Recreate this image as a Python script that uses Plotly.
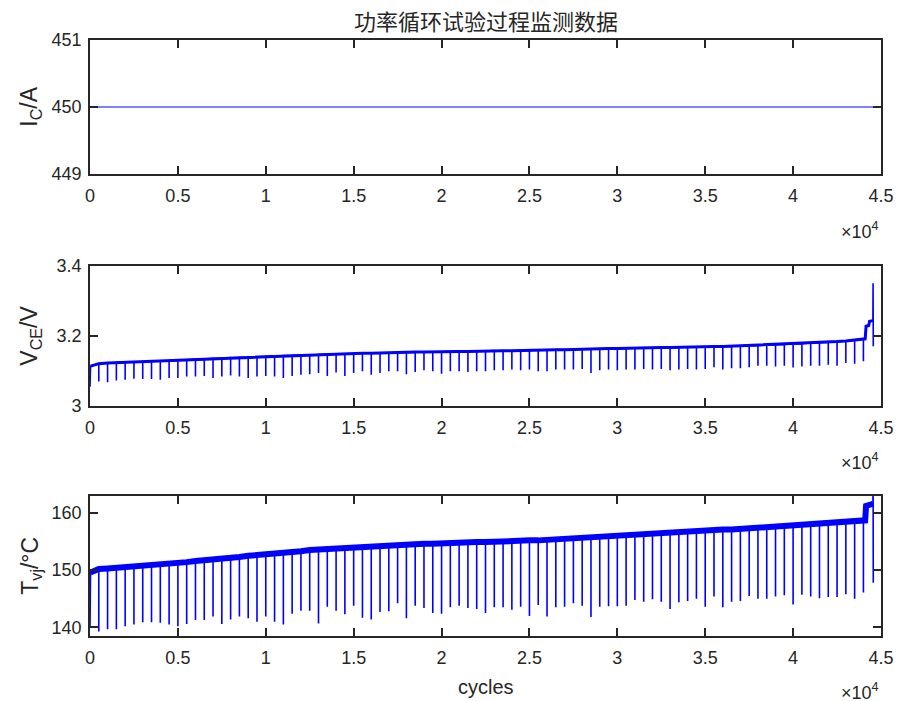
import plotly.graph_objects as go

# ---------------- data ----------------
x_tick_vals = [0, 5000, 10000, 15000, 20000, 25000, 30000, 35000, 40000, 45000]
x_tick_text = ["0", "0.5", "1", "1.5", "2", "2.5", "3", "3.5", "4", "4.5"]

ic_cycles = [0, 45000]
ic_values = [450, 450]

# cycles at which the periodic dips occur (every 500 cycles)
dip_cycles = list(range(500, 44001, 500))

# start of the record
start_cycles = [0, 30]
vce_start = [3.055, 3.114]
tvj_start = [140.0, 149.6]

# baseline level at each dip
vce_base = [3.121, 3.123, 3.124, 3.125, 3.126, 3.127, 3.128, 3.129, 3.130, 3.131,
            3.132, 3.133, 3.134, 3.136, 3.137, 3.138, 3.139, 3.140, 3.141, 3.142, 3.143, 3.144,
            3.145, 3.146, 3.146, 3.147, 3.148, 3.149, 3.149, 3.150, 3.151, 3.151, 3.152, 3.152,
            3.153, 3.153, 3.154, 3.154, 3.155, 3.155, 3.156, 3.156, 3.156, 3.157, 3.157,
            3.158, 3.158, 3.158, 3.159, 3.159, 3.160, 3.160, 3.161, 3.161, 3.162, 3.162,
            3.163, 3.163, 3.164, 3.164, 3.165, 3.165, 3.166, 3.166, 3.167, 3.167, 3.168, 3.168,
            3.169, 3.169, 3.170, 3.170, 3.171, 3.172, 3.172, 3.173, 3.174, 3.175,
            3.176, 3.177, 3.178, 3.180, 3.181, 3.182, 3.184, 3.186, 3.189, 3.192]

vce_dip = [3.070, 3.068, 3.073, 3.075, 3.078, 3.077, 3.077, 3.075, 3.080, 3.080,
           3.084, 3.084, 3.086, 3.080, 3.084, 3.087, 3.084, 3.080, 3.084, 3.086,
           3.084, 3.080, 3.086, 3.089, 3.091, 3.094, 3.086, 3.096, 3.086, 3.094,
           3.099, 3.089, 3.094,
           3.099, 3.099, 3.091, 3.097, 3.102, 3.099, 3.092, 3.099, 3.099, 3.097,
           3.099, 3.099, 3.102, 3.102, 3.104, 3.102, 3.104, 3.099, 3.099, 3.104,
           3.104, 3.104, 3.106, 3.094, 3.102, 3.104, 3.102, 3.104, 3.104, 3.106,
           3.104, 3.106, 3.102, 3.104,
           3.106, 3.104,
           3.106, 3.111, 3.104, 3.108, 3.108, 3.111, 3.115, 3.115, 3.113, 3.115,
           3.110, 3.113, 3.115, 3.115, 3.118, 3.115, 3.123, 3.121, 3.128]

tvj_base = [150.2, 150.3, 150.4, 150.5, 150.6, 150.7, 150.8, 150.9, 151.1, 151.3,
            151.4, 151.6, 151.7, 151.9, 152.0, 152.2, 152.3, 152.5, 152.6, 152.8, 152.9, 153.1,
            153.2, 153.3, 153.5, 153.6, 153.7, 153.8, 153.9, 154.0, 154.1, 154.2, 154.3, 154.4,
            154.4, 154.5, 154.5, 154.6, 154.6, 154.7, 154.7, 154.8, 154.8, 154.9, 154.9,
            155.0, 155.0, 155.1, 155.1, 155.2, 155.2, 155.3, 155.4, 155.4, 155.5, 155.6,
            155.7, 155.8, 155.9, 156.0, 156.1, 156.2, 156.3, 156.4, 156.5, 156.6, 156.7, 156.8,
            156.9, 156.9, 157.0, 157.1, 157.1, 157.2, 157.3, 157.4, 157.5, 157.6,
            157.7, 157.8, 157.9, 158.0, 158.1, 158.2, 158.3, 158.4, 158.5, 158.6]

tvj_dip = [139.3, 139.7, 139.7, 140.2, 140.5, 140.9, 140.9, 140.8, 140.5, 140.2, 140.6,
           141.3, 141.3, 141.9, 140.6, 141.4, 141.9, 141.6, 141.0, 141.9, 141.0, 140.5,
           142.4, 142.9, 142.9, 140.7, 143.6, 142.9, 142.3, 143.8, 141.7, 141.4, 142.7,
           142.8, 144.2, 141.6, 143.8, 143.4, 142.5, 142.4, 143.5, 143.8, 143.4, 143.2, 142.5,
           143.5, 143.5, 143.1, 143.6, 142.0, 143.9, 141.9, 143.5, 143.6, 144.2, 143.8,
           141.8, 143.6, 143.7, 143.7, 143.8, 144.8, 144.5, 144.9, 144.5, 143.2, 144.4, 144.6,
           145.0, 143.6, 145.4, 143.5, 144.5, 144.6, 145.5, 145.0, 145.0, 145.4,
           145.6, 144.0, 145.7, 145.4, 145.1, 145.3, 145.3, 145.8, 145.0, 146.1]

# end of the record (step up, final spike)
tail_cycles = [44100, 44150, 44300, 44350, 44540, 44550, 44560]
vce_tail = [3.192, 3.228, 3.230, 3.242, 3.244, 3.351, 3.171]
tvj_tail = [158.7, 161.2, 161.3, 161.5, 161.6, 166.0, 147.8]

BLUE = "rgb(0,0,255)"
AX = "#262626"
FONT = "Liberation Sans, Arial, sans-serif"


def trace_xy(base, dip, start, tail):
    xs = list(start_cycles)
    ys = list(start)
    for c, b, d in zip(dip_cycles, base, dip):
        xs += [c, c, c]
        ys += [b, d, b]
    xs += tail_cycles
    ys += tail
    return xs, ys


def band_xy(base, start, tail):
    xs = start_cycles[-1:] + dip_cycles + tail_cycles[:-2]
    ys = list(start[-1:]) + list(base) + list(tail[:-2])
    return xs, ys


fig = go.Figure()

fig.add_trace(go.Scatter(x=ic_cycles, y=ic_values, mode="lines",
                         line=dict(color=BLUE, width=1), xaxis="x", yaxis="y",
                         showlegend=False))

bx, by = band_xy(vce_base, vce_start, vce_tail)
fig.add_trace(go.Scatter(x=bx, y=by, mode="lines", line=dict(color=BLUE, width=3),
                         xaxis="x2", yaxis="y2", showlegend=False))
vx, vy = trace_xy(vce_base, vce_dip, vce_start, vce_tail)
fig.add_trace(go.Scatter(x=vx, y=vy, mode="lines", line=dict(color=BLUE, width=1.6),
                         xaxis="x2", yaxis="y2", showlegend=False))

bx, by = band_xy(tvj_base, tvj_start, tvj_tail)
fig.add_trace(go.Scatter(x=bx, y=by, mode="lines", line=dict(color=BLUE, width=6),
                         xaxis="x3", yaxis="y3", showlegend=False))
tx, ty = trace_xy(tvj_base, tvj_dip, tvj_start, tvj_tail)
fig.add_trace(go.Scatter(x=tx, y=ty, mode="lines", line=dict(color=BLUE, width=1.6),
                         xaxis="x3", yaxis="y3", showlegend=False))

axis_common = dict(showline=True, linecolor=AX, linewidth=1.6, mirror="ticks",
                   ticks="inside", ticklen=8, tickwidth=1.6, tickcolor=AX,
                   showgrid=False, zeroline=False,
                   tickfont=dict(family=FONT, size=18, color=AX))

xcommon = dict(axis_common, range=[0, 45000], tickvals=x_tick_vals, ticktext=x_tick_text,
               ticklabelstandoff=5, automargin=False)
ycommon = dict(axis_common, ticklabelstandoff=3, automargin=False)

fig.update_layout(
    width=900, height=701,
    margin=dict(l=90, r=19, t=40, b=65),
    paper_bgcolor="white", plot_bgcolor="white",
    xaxis=dict(xcommon, anchor="y", domain=[0, 1]),
    yaxis=dict(ycommon, range=[449, 451], tickvals=[449, 450, 451],
               domain=[0.7752, 1.0], anchor="x"),
    xaxis2=dict(xcommon, anchor="y2", domain=[0, 1]),
    yaxis2=dict(ycommon, range=[3.0, 3.4], tickvals=[3.0, 3.2, 3.4],
                ticktext=["3", "3.2", "3.4"], domain=[0.3859, 0.6208], anchor="x2"),
    xaxis3=dict(xcommon, anchor="y3", domain=[0, 1]),
    yaxis3=dict(ycommon, range=[138.5, 163], tickvals=[140, 150, 160],
                domain=[0.0, 0.2354], anchor="x3"),
)

ann = []
ann.append(dict(text="功率循环试验过程监测数据", x=0.5, y=1.0336, xref="paper", yref="paper",
                xanchor="center", yanchor="middle", showarrow=False,
                font=dict(family="Noto Sans CJK SC", size=22, color=AX)))
for yy, txt in [(0.8876, "I<sub>C</sub>/A"), (0.5034, "V<sub>CE</sub>/V"),
                (0.1174, "T<sub>vj</sub>/°C")]:
    ann.append(dict(text=txt, x=-0.075, y=yy, xref="paper", yref="paper", textangle=-90,
                    xanchor="center", yanchor="middle", showarrow=False,
                    font=dict(family=FONT, size=23, color=AX)))
for yy in [0.681, 0.2936, -0.0923]:
    ann.append(dict(text="×10<sup>4</sup>", x=1.0, y=yy, xref="paper", yref="paper",
                    xanchor="right", yanchor="middle", showarrow=False,
                    font=dict(family=FONT, size=18, color=AX)))
ann.append(dict(text="cycles", x=0.5, y=-0.0856, xref="paper", yref="paper",
                xanchor="center", yanchor="middle", showarrow=False,
                font=dict(family=FONT, size=20, color=AX)))
fig.update_layout(annotations=ann)

fig.write_html("out.html",
               config={"displayModeBar": False},
               post_script="document.body.style.margin='0';"
                           "document.body.style.overflow='hidden';")
